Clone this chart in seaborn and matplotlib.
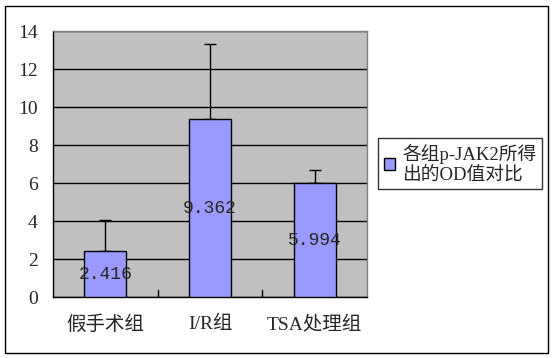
import matplotlib
matplotlib.use("Agg")
import matplotlib.pyplot as plt
import seaborn as sns
import pandas as pd
from matplotlib.patches import Rectangle, Patch

categories = ["假手术组", "I/R组", "TSA处理组"]
values = [2.416, 9.362, 5.994]
errors = [1.62, 3.97, 0.68]
value_labels = ["2.416", "9.362", "5.994"]
legend_label = "各组p-JAK2所得\n出的OD值对比"
yticks = [0, 2, 4, 6, 8, 10, 12, 14]

sns.set_style("white")
FAM = ["Liberation Serif", "Noto Sans CJK SC", "DejaVu Sans"]
plt.rcParams["font.family"] = FAM

df = pd.DataFrame({"group": categories, "value": values})

fig = plt.figure(figsize=(5.55, 3.58), dpi=100)
fig.patch.set_facecolor("white")
ax = fig.add_axes([0.0955, 0.170, 0.566, 0.7426])
ax.set_facecolor("#C0C0C0")

sns.barplot(data=df, x="group", y="value", color="#9999FF", edgecolor="black",
            linewidth=1.0, width=0.4, saturation=1, errorbar=None, ax=ax, zorder=3)
for p in ax.patches:
    p.set_facecolor("#9999FF")
    p.set_zorder(3)

xs = range(len(categories))
ax.errorbar(list(xs), values, yerr=[[0]*len(errors), errors], fmt="none",
            ecolor="black", elinewidth=1.0, capsize=4, capthick=1.0, zorder=2)

for x, v, lab in zip(xs, values, value_labels):
    ax.text(x, v / 2, lab, ha="center", va="center", fontsize=13,
            family=["Liberation Mono"], zorder=5)

ax.set_ylim(0, 14)
ax.set_xlim(-0.5, 2.5)
ax.set_yticks(yticks)
ax.set_yticklabels([str(t) for t in yticks], fontsize=14)
ax.yaxis.grid(True, color="black", linewidth=1.0, zorder=0)
ax.set_axisbelow(True)
ax.set_xlabel("")
ax.set_ylabel("")
ax.set_xticks(list(xs))
ax.set_xticklabels(categories, fontsize=14)
ax.tick_params(axis="x", length=0, pad=13)
ax.tick_params(axis="y", length=0, pad=11)
for x in [0.5, 1.5]:
    ax.plot([x, x], [0, 0.35], color="black", lw=1.0, zorder=4, clip_on=False)

for s in ["top", "right"]:
    ax.spines[s].set_color("#808080")
    ax.spines[s].set_linewidth(1.0)
for s in ["left", "bottom"]:
    ax.spines[s].set_color("black")
    ax.spines[s].set_linewidth(1.0)

handle = Patch(facecolor="#9999FF", edgecolor="black", linewidth=1.0)
leg = fig.legend([handle], [legend_label], loc="upper left",
                 bbox_to_anchor=(378 / 555, 1 - 138 / 358), frameon=True,
                 fancybox=False, edgecolor="black", fontsize=13.5,
                 handlelength=0.6, handleheight=0.6, handletextpad=0.4,
                 borderpad=0.3, borderaxespad=0, labelspacing=0.2)
leg.get_frame().set_linewidth(1.0)

fig.add_artist(Rectangle((5 / 555, 5 / 358), 543 / 555, 347 / 358,
                         transform=fig.transFigure, fill=False,
                         edgecolor="black", linewidth=1.0))

fig.savefig("out.png", dpi=100)
